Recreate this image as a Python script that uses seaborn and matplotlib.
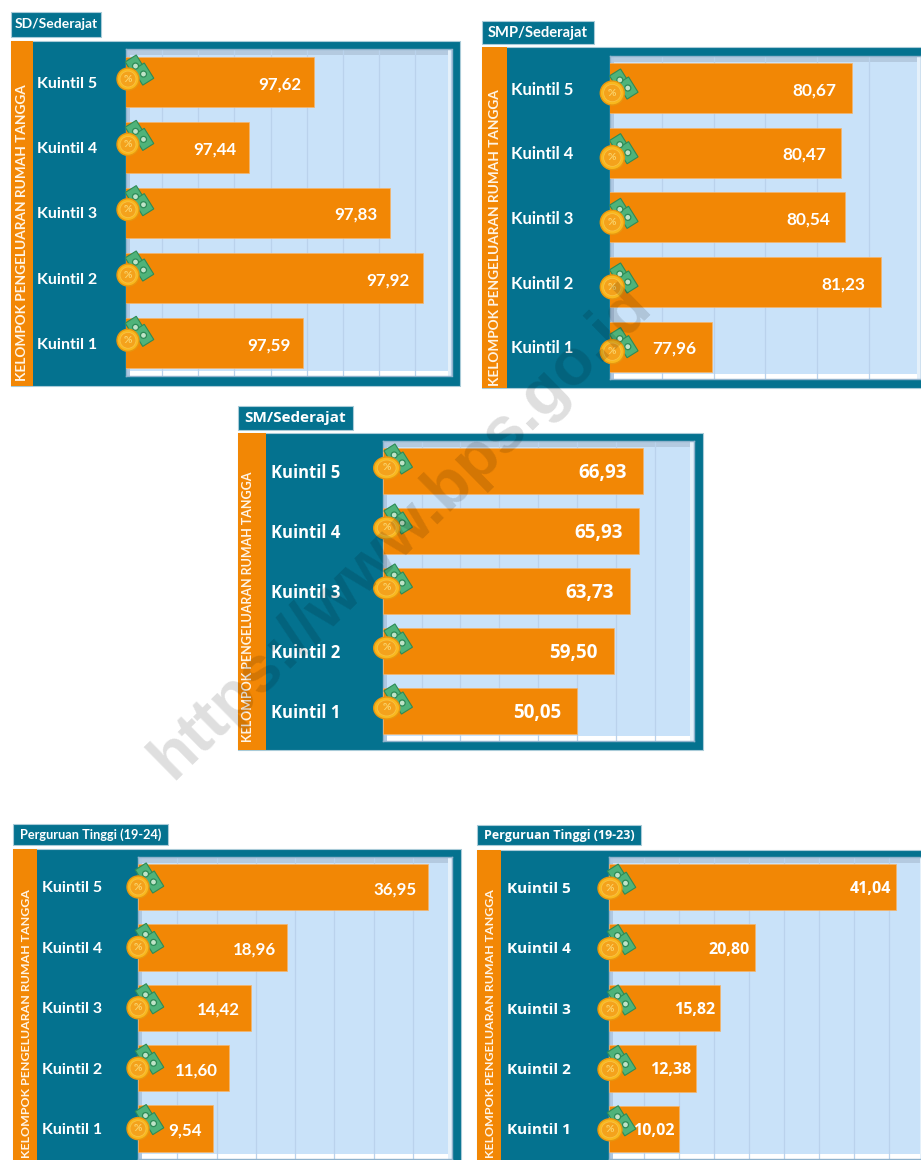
import numpy as np
import pandas as pd
import matplotlib
matplotlib.use("Agg")
import matplotlib.pyplot as plt
from matplotlib.patches import Rectangle, Ellipse
from matplotlib.transforms import Affine2D
import seaborn as sns

KUINTIL = ["Kuintil 5", "Kuintil 4", "Kuintil 3", "Kuintil 2", "Kuintil 1"]
SD_VALUES = [97.62, 97.44, 97.83, 97.92, 97.59]
SMP_VALUES = [80.67, 80.47, 80.54, 81.23, 77.96]
SM_VALUES = [66.93, 65.93, 63.73, 59.50, 50.05]
PT1924_VALUES = [36.95, 18.96, 14.42, 11.60, 9.54]
PT1923_VALUES = [41.04, 20.80, 15.82, 12.38, 10.02]
YLABEL = "KELOMPOK PENGELUARAN RUMAH TANGGA"
WATERMARK = "https://www.bps.go.id"

W, H = 921, 1160
TEAL = "#04728F"
ORANGE = "#F28705"
PANEL_BG = "#C9E2F9"
GRID = "#BAD2EC"

sns.set_theme(style="white")
plt.rcParams["font.family"] = ["Lato", "DejaVu Sans"]

fig = plt.figure(figsize=(W / 100, H / 100), dpi=100, facecolor="white")


def px_axes(l, t, r, b, zorder=1):
    return fig.add_axes([l / W, 1 - b / H, (r - l) / W, (b - t) / H], zorder=zorder)


bg = fig.add_axes([0, 0, 1, 1], zorder=0)
bg.set_xlim(0, W)
bg.set_ylim(H, 0)
bg.axis("off")
top = fig.add_axes([0, 0, 1, 1], zorder=10)
top.set_xlim(0, W)
top.set_ylim(H, 0)
top.axis("off")
top.patch.set_alpha(0)


def coin(cx, cy, dx, dy, rx, ry):
    x, y = cx + dx, cy + dy
    for bx, by in ((7.5, -13), (15.5, -5)):
        tr = Affine2D().rotate_deg_around(x + bx, y + by, 58) + top.transData
        top.add_patch(Rectangle((x + bx - 9, y + by - 6.5), 18, 13, fc="#4FB37A",
                                ec="#2E8B57", lw=0.8, transform=tr, zorder=2))
        top.add_patch(Ellipse((x + bx, y + by), 6, 6, fc="#BFE3C8", ec="#2E8B57",
                              lw=0.9, zorder=2.1))
    top.add_patch(Ellipse((x, y), rx * 2, ry * 2, fc="#F9B81E", ec="#E8960F", lw=1, zorder=3))
    top.add_patch(Ellipse((x, y), rx * 1.45, ry * 1.45, fc="#F4A21C", ec="#F9C344", lw=0.6, zorder=3.1))
    top.text(x, y, "%", color="#FAD36B", fontsize=7.5, fontweight="bold", ha="center", va="center", zorder=3.2)


def panel(title, title_box, frame, strip_r, plot, values, xlim, step, bar_width, tick_pad,
          val_pad, tick_font, tick_size, val_font, val_size, title_size, ylabel_xy, ylabel_size,
          coin_off, coin_r):
    fl, ft, fr, fb = frame
    bg.add_patch(Rectangle((fl, ft), fr - fl, fb - ft, fc=TEAL, ec="#A9CBD8", lw=0.8))
    bg.add_patch(Rectangle((fl, ft), strip_r - fl, fb - ft, fc=ORANGE, ec="none"))
    tl, tt, tr_, tb = title_box
    bg.add_patch(Rectangle((tl, tt), tr_ - tl, tb - tt, fc=TEAL, ec="#A9CBD8", lw=0.8))
    bg.text(tl + (tr_ - tl) / 2, (tt + tb) / 2, title, color="white", fontsize=title_size,
            fontweight="bold", ha="center", va="center", family=[tick_font, "DejaVu Sans"])
    bg.text(ylabel_xy[0], ylabel_xy[1], YLABEL, color="#FFF4E5", rotation=90, fontsize=ylabel_size,
            fontweight="bold", ha="center", va="top", family=["Lato", "DejaVu Sans"], clip_on=True)

    l, t, r, b = plot
    ax = px_axes(l, t, r, b)
    df = pd.DataFrame({"kelompok": KUINTIL, "nilai": values})
    sns.barplot(data=df, y="kelompok", x="nilai", order=KUINTIL, color=ORANGE, saturation=1,
                width=bar_width, orient="h", ax=ax, edgecolor="#F6B56C", linewidth=0.5, zorder=3)
    ax.set_facecolor(PANEL_BG)
    ax.set_xlim(*xlim)
    ax.set_ylim(4.5, -0.5)
    ax.set_xticks(np.arange(xlim[0], xlim[1] + step / 2, step))
    ax.set_xticklabels([])
    ax.xaxis.grid(True, color=GRID, lw=0.9, zorder=1)
    ax.yaxis.grid(False)
    ax.set_axisbelow(True)
    ax.set_xlabel("")
    ax.set_ylabel("")
    ax.tick_params(axis="x", length=0)
    ax.tick_params(axis="y", length=0, pad=tick_pad * 0.72)
    for lab in ax.get_yticklabels():
        lab.set_ha("left")
        lab.set_color("white")
        lab.set_fontweight("bold")
        lab.set_fontsize(tick_size)
        lab.set_family([tick_font, "DejaVu Sans"])
    for s in ax.spines.values():
        s.set_color("#8FB2CC")
        s.set_linewidth(1)
    w, h = r - l, b - t
    ax.add_patch(Rectangle((0, 1 - 6 / h), 1, 6 / h, transform=ax.transAxes, fc="#B4CAE0", ec="none", zorder=0.5))
    ax.add_patch(Rectangle((0, 0), 1, 5 / h, transform=ax.transAxes, fc="white", ec="none", zorder=0.5))
    ax.add_patch(Rectangle((1 - 4 / w, 0), 4 / w, 1, transform=ax.transAxes, fc="#E4F0FA", ec="none", zorder=0.5))
    ax.add_patch(Rectangle((0, 0), 4 / w, 1, transform=ax.transAxes, fc="#AFC8E2", ec="none", zorder=0.5))

    for cont in ax.containers:
        anns = ax.bar_label(cont, labels=[f"{v:.2f}".replace(".", ",") for v in values],
                            padding=-val_pad * 0.72, color="white", fontweight="bold",
                            fontsize=val_size, family=[val_font, "DejaVu Sans"], zorder=5)
        for a in anns:
            a.set_ha("right")
            a.xyann = (a.xyann[0], -1.5)

    row = (b - t) / 5
    for i in range(5):
        coin(l, t + row * (i + 0.5), coin_off[0], coin_off[1], coin_r[0], coin_r[1])
    return ax


panel("SD/Sederajat", (11, 12, 101, 37), (11, 41, 460, 386), 33, (126, 49.4, 451.5, 376),
      SD_VALUES, (97.1, 98.0), 0.1, 0.77, 89, 13, "Lato", 11.5, "Lato", 12.2, 10, (22, 84), 9.8,
      (2, -3), (11, 11))
panel("SMP/Sederajat", (482, 21, 594, 44), (482, 47, 925, 388), 507, (610.3, 55.7, 920.5, 379),
      SMP_VALUES, (76, 82), 1, 0.77, 99.5, 15, "Lato", 12, "Lato", 12.4, 10.6, (495, 89), 9.8,
      (2, 5), (12, 12))
panel("SM/Sederajat", (238, 406, 353, 430), (238, 433, 703, 750), 266, (382.7, 441, 693.5, 741),
      SM_VALUES, (0, 80), 10, 0.775, 111.7, 16, "Open Sans", 12, "Open Sans", 13.5, 11, (248, 472), 9.0,
      (4, -3), (13, 11))
panel("Perguruan Tinggi (19-24)", (13, 824, 168, 845), (13, 849, 461, 1170), 37, (138, 856.8, 452, 1158.8),
      PT1924_VALUES, (0, 40), 5, 0.77, 96, 11, "Lato", 11.5, "Lato", 12.2, 9.2, (26, 889), 8.9,
      (0, 0), (11, 11))
panel("Perguruan Tinggi (19-23)", (477, 825, 641, 845), (477, 850, 930, 1170), 501, (609, 857, 924, 1159),
      PT1923_VALUES, (0, 45), 5, 0.77, 102, 5, "Open Sans", 11, "Open Sans", 11.5, 9, (490, 889), 8.9,
      (1, 1), (12, 11))

top.text(401, 532, WATERMARK, color="black", alpha=0.13, fontsize=47, fontweight="bold",
         rotation=44.5, rotation_mode="anchor", ha="center", va="center",
         family=["Liberation Sans", "DejaVu Sans"], zorder=20)

fig.savefig("out.png", dpi=100, facecolor="white")
